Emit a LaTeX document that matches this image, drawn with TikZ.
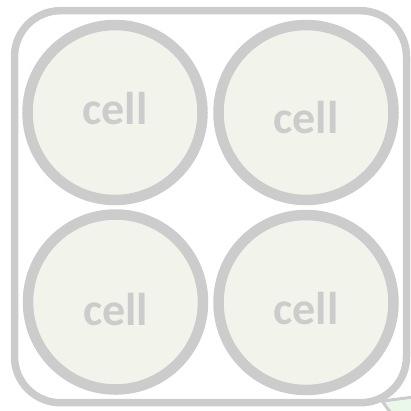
\documentclass[tikz,border=0pt]{standalone}
\usepackage{fontspec}
\setmainfont{Carlito}

\definecolor{rimgray}{HTML}{CCCCCC}
\definecolor{cellfill}{HTML}{F2F4EB}
\definecolor{leafgreen}{HTML}{EAF8EA}

\tikzset{
  plate/.style={draw=rimgray, line width=7.5pt, rounded corners=46pt,
    minimum width=392pt, minimum height=392pt, inner sep=0pt},
  cell/.style={circle, draw=rimgray, fill=cellfill, line width=10.5pt,
    minimum size=175pt, inner sep=0pt},
  celltext/.style={text=rimgray, font=\bfseries\fontsize{46}{46}\selectfont}
}

\begin{document}
\begin{tikzpicture}[x=1pt, y=-1pt]
	
	% cadre de la page
	\useasboundingbox (0,0) rectangle (411,410);
	\clip (0,0) rectangle (411,410);
	
	% bout de la forme suivante, coupé au coin
	\filldraw[fill=leafgreen, draw=rimgray, line width=3pt] (382,401) -- (430,395) -- (430,430) -- (396,420) -- cycle;
	
	% plaque arrondie autour des cellules
	\node[plate] (plate) at (210.5,206.7) {};
	
	% les quatre cellules et leur texte
	\foreach \name/\x/\y/\dy in {
		cellA/115/112.5/-4, cellB/306/112.5/5,
		cellC/115.5/302/8, cellD/306/302.5/6
	}{
		\node[cell] (\name) at (\x,\y) {};
		\node[celltext] (\name-text) at ([yshift=-\dy pt]\name.center) {cell};
	}
	
\end{tikzpicture}
\end{document}
